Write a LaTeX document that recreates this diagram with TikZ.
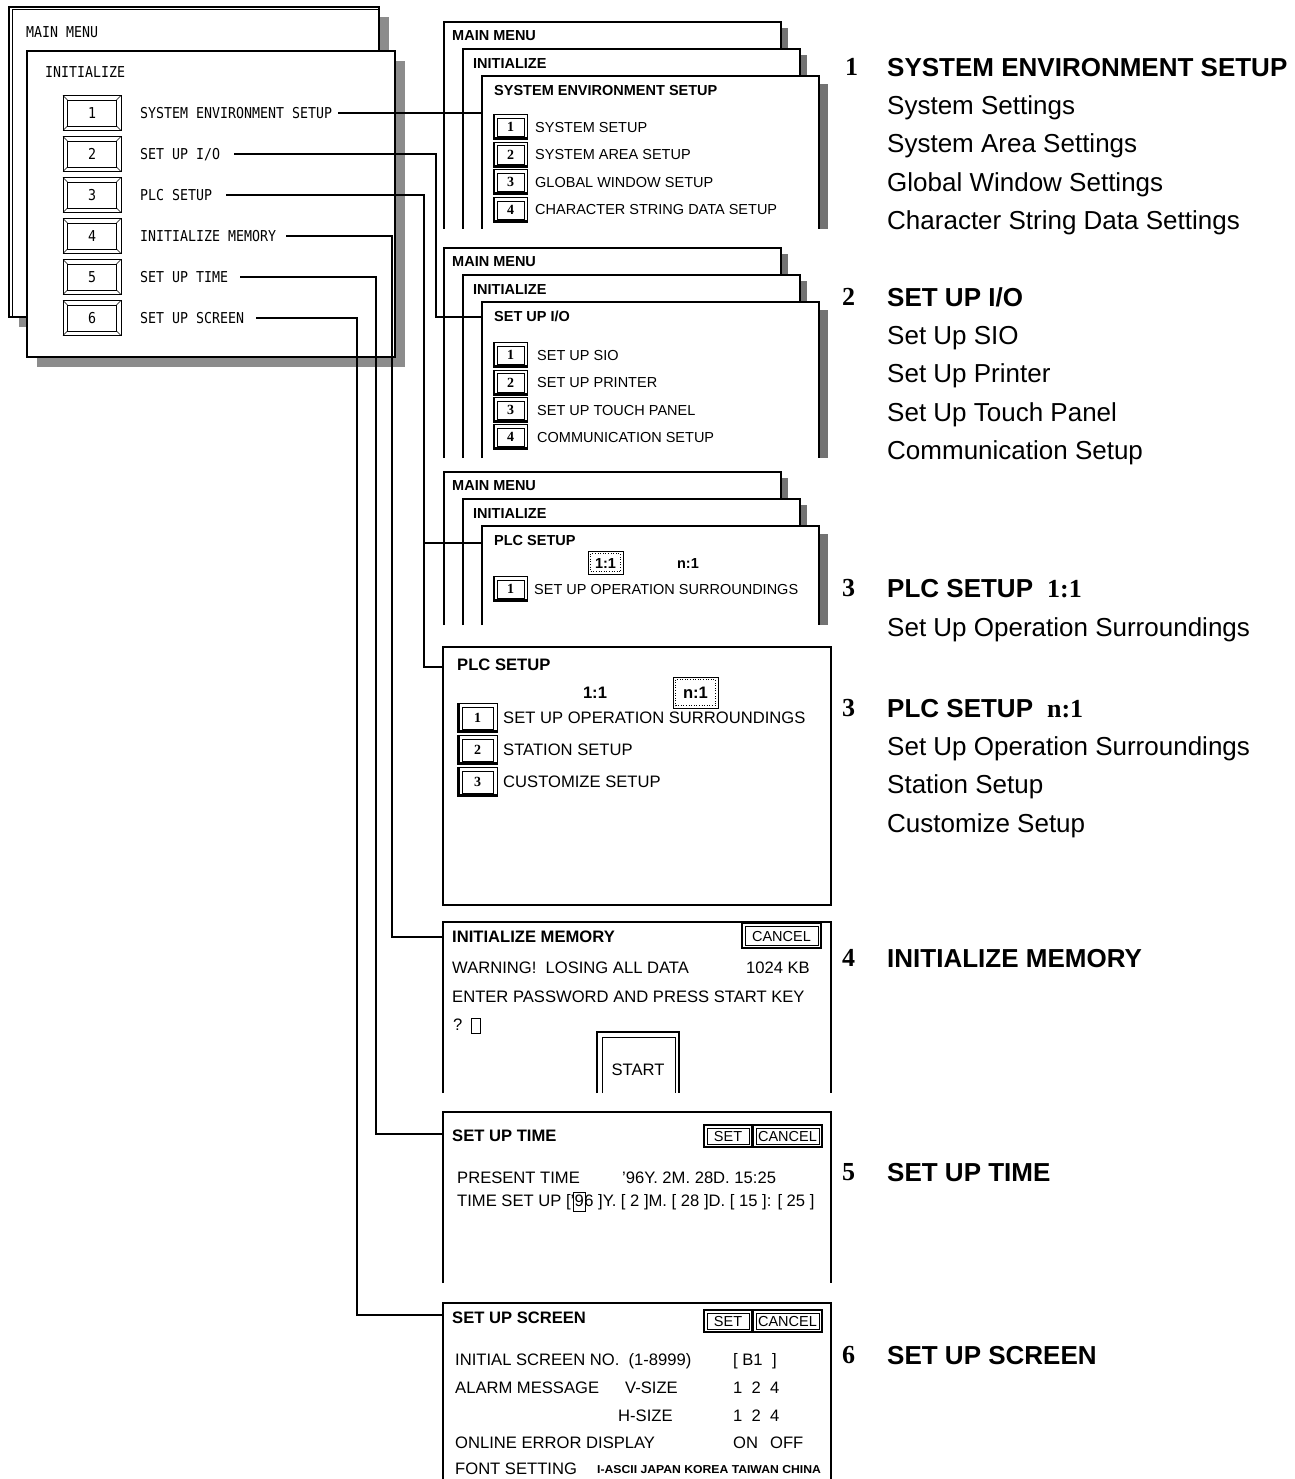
\documentclass[tikz,border=0pt]{standalone}
\usepackage{fontspec}
\setmainfont{Liberation Sans}
\newfontfamily\menufam[FakeStretch=0.885]{DejaVu Sans Mono}
\newfontfamily\numfam{Liberation Serif}
\newfontfamily\tagfam[FakeStretch=1.06]{Liberation Sans}
\usetikzlibrary{positioning}

\newcommand\menuTxt{\menufam\fontsize{15}{15}\selectfont}
\newcommand\panTxt{\fontsize{14.5}{14.5}\selectfont}
\newcommand\panTtl{\bfseries\fontsize{14.5}{14.5}\selectfont}
\newcommand\bigTxt{\fontsize{16.6}{16.6}\selectfont}
\newcommand\bigTtl{\bfseries\fontsize{16.6}{16.6}\selectfont}
\newcommand\lblTxt{\fontsize{26}{26}\selectfont}
\newcommand\lblNum{\numfam\bfseries\fontsize{26}{26}\selectfont}
\newcommand\btnNum{\numfam\bfseries\fontsize{14}{14}\selectfont}
\newcommand\tagTxt{\tagfam\bfseries\fontsize{11.5}{11.5}\selectfont}

\tikzset{
  txt/.style={anchor=west, inner sep=0pt, text depth=0pt},
  menutxt/.style={txt, font=\menuTxt, text height=10.9pt},
  pantxt/.style={txt, font=\panTxt, text height=10.4pt},
  panttl/.style={txt, font=\panTtl, text height=10.4pt},
  bigtxt/.style={txt, font=\bigTxt, text height=11.9pt},
  bigttl/.style={txt, font=\bigTtl, text height=11.9pt},
  lbltxt/.style={txt, font=\lblTxt, text height=18.6pt},
  lblttl/.style={lbltxt, font=\bfseries\lblTxt},
  lblnum/.style={txt, font=\lblNum, text height=17.3pt},
  conn/.style={line width=2pt},
  shade/.style={fill=black!45},
  pshade/.style={fill=black!55},
  winline/.style={line width=1.1pt},
  pics/mbtn/.style={code={
    \draw[line width=1pt] (-29,-17.5) rectangle (29,17.5);
    \draw[line width=0.8pt] (-24.5,-13) rectangle (24.5,13);
    \draw[line width=0.6pt] (-29,-17.5) -- (-24.5,-13) (29,-17.5) -- (24.5,-13)
      (-29,17.5) -- (-24.5,13) (29,17.5) -- (24.5,13);
    \node[font=\menuTxt, inner sep=0pt, text height=10.9pt, text depth=0pt] (-n) at (0,0) {#1};
  }},
  pics/pbtn/.style={code={
    \fill[white] (-17,-12.5) rectangle (17,12.5);
    \draw[line width=0.6pt] (-17,-12.5) rectangle (17,12.5);
    \draw[line width=0.5pt] (-13,-9) rectangle (14,9.5);
    \draw[line width=2.4pt] (-15.8,-12.5) -- (-15.8,11.3) -- (17,11.3);
    \node[font=\btnNum, inner sep=0pt] (-n) at (0.5,0) {#1};
  }},
  pics/dbtn/.style n args={3}{code={
    \draw[line width=1.3pt] ({-#1/2},{-#2/2}) rectangle ({#1/2},{#2/2});
    \draw[line width=0.6pt] ({-#1/2+3},{-#2/2+3}) rectangle ({#1/2-3},{#2/2-3});
    \node[font=\panTxt, inner sep=0pt] (-t) at (0,0.5) {#3};
  }}
}

\begin{document}
\begin{tikzpicture}[x=1pt, y=-1pt]
\useasboundingbox (0,0) rectangle (1294,1479);

% main menu and initialize windows
\fill[shade] (19,17) rectangle (389,327);
\fill[white] (9,7) rectangle (379,317);
\draw[line width=1.4pt] (9,7) rectangle (379,317);
\draw[line width=1pt] (12,317) |- (379,10);
\node[menutxt] (mmain) at (26,32) {MAIN MENU};
\fill[shade] (37,61) rectangle (405,367);
\fill[white] (27,51) rectangle (395,357);
\draw[line width=1.4pt] (27,51) rectangle (395,357);
\node[menutxt] (minit) at (45,72) {INITIALIZE};
\foreach \txt [count=\i] in {SYSTEM ENVIRONMENT SETUP, SET UP I/O, PLC SETUP, INITIALIZE MEMORY, SET UP TIME, SET UP SCREEN}{
  \pic (mb\i) at (92,{113+41*(\i-1)}) {mbtn=\i};
  \node[menutxt] (m\i) at (140,{113+41*(\i-1)}) {\txt};
}

% stacked screens
\foreach \t/\b/\ttl in {22/229/SYSTEM ENVIRONMENT SETUP, 248/458/{SET UP I/O}, 472/625/PLC SETUP}{
  \fill[white] (444,\t) rectangle (781,\b);
  \fill[pshade] (782,{\t+6}) rectangle (788,\b);
  \draw[winline] (444,\b) |- (781,\t) -- (781,\b);
  \node[panttl] (sa\t) at (452,{\t+13}) {MAIN MENU};
  \fill[white] (463,{\t+27}) rectangle (800,\b);
  \fill[pshade] (801,{\t+33}) rectangle (807,\b);
  \draw[winline] (463,\b) |- (800,{\t+27}) -- (800,\b);
  \node[panttl] (sb\t) at (473,{\t+41}) {INITIALIZE};
  \fill[white] (482,{\t+54}) rectangle (819,\b);
  \fill[pshade] (820,{\t+62}) rectangle (828,\b);
  \draw[winline] (482,\b) |- (819,{\t+54}) -- (819,\b);
  \node[panttl] (sc\t) at (494,{\t+68}) {\ttl};
}
\foreach \txt [count=\i] in {SYSTEM SETUP, SYSTEM AREA SETUP, GLOBAL WINDOW SETUP, CHARACTER STRING DATA SETUP}{
  \pic (ea\i) at (510,{127+27.6*(\i-1)}) {pbtn=\i};
  \node[pantxt] (et\i) at (535,{127+27.6*(\i-1)}) {\txt};
}
\foreach \txt [count=\i] in {SET UP SIO, SET UP PRINTER, SET UP TOUCH PANEL, COMMUNICATION SETUP}{
  \pic (ia\i) at (510,{355+27.4*(\i-1)}) {pbtn=\i};
  \node[pantxt] (it\i) at (537,{355+27.4*(\i-1)}) {\txt};
}
\draw[line width=0.6pt] (588,551) rectangle (623,574);
\draw[line width=0.6pt, dotted] (590.5,553.5) rectangle (620.5,571.5);
\node[panttl, anchor=center] (pa11) at (605.5,563) {1:1};
\node[panttl, anchor=center] (pan1) at (688,563) {n:1};
\pic (pab) at (510,589) {pbtn=1};
\node[pantxt] (pat) at (534,589) {SET UP OPERATION SURROUNDINGS};

% plc setup n:1
\draw[winline] (443,647) rectangle (831,905);
\node[bigttl] (pbttl) at (457,665) {PLC SETUP};
\node[bigttl, anchor=center] (pb11) at (595,693) {1:1};
\draw[line width=0.6pt] (673,677) rectangle (718,708);
\draw[line width=0.6pt, dotted] (675.5,679.5) rectangle (715.5,705.5);
\node[bigttl, anchor=center] (pbn1) at (695.5,693) {n:1};
\foreach \txt [count=\i] in {SET UP OPERATION SURROUNDINGS, STATION SETUP, CUSTOMIZE SETUP}{
  \pic[scale=1.17] (pbb\i) at (477,{718+32*(\i-1)}) {pbtn=\i};
  \node[bigtxt] (pbt\i) at (503,{718+32*(\i-1)}) {\txt};
}

% initialize memory
\draw[winline] (443,1093) |- (831,922) -- (831,1093);
\node[bigttl] (imttl) at (452,937) {INITIALIZE MEMORY};
\pic (imc) at (781.5,935.5) {dbtn={79}{25}{CANCEL}};
\node[bigtxt] (imw) at (452,968) {WARNING!\ \ LOSING ALL DATA};
\node[bigtxt, anchor=east] (imkb) at (810,968) {1024 KB};
\node[bigtxt] (ime) at (452,997) {ENTER PASSWORD AND PRESS START KEY};
\node[bigtxt] (imq) at (453,1025) {?};
\draw[line width=0.6pt] (471,1018) rectangle (480,1033);
\draw[winline] (597,1093) |- (679,1032) -- (679,1093);
\draw[line width=0.6pt] (602,1093) |- (675,1037) -- (675,1093);
\node[bigtxt, anchor=center] (imst) at (638,1070) {START};

% set up time
\draw[winline] (443,1283) |- (831,1112) -- (831,1283);
\node[bigttl] (tmttl) at (452,1136) {SET UP TIME};
\pic (tms) at (728,1136) {dbtn={48}{22}{SET}};
\pic (tmc) at (787.5,1136) {dbtn={69}{22}{CANCEL}};
\node[bigtxt] (tmp) at (457,1178) {PRESENT TIME};
\node[bigtxt] (tmpv) at (622,1178) {'96Y. 2M. 28D. 15:25};
\node[bigtxt] (ts1) at (457,1201) {TIME SET UP ['};
\node[bigtxt, right=0pt of ts1] (ts9) {9};
\node[bigtxt, right=0pt of ts9] (ts2) {6 ]Y. [ 2 ]M. [ 28 ]D. [ 15 ]: [ 25 ]};
\draw[line width=0.6pt] ([shift={(-1,-3)}]ts9.north west) rectangle ([shift={(1,4)}]ts9.south east);

% set up screen
\draw[winline] (443,1479) |- (831,1303) -- (831,1479);
\node[bigttl] (scttl) at (452,1318) {SET UP SCREEN};
\pic (scs) at (728,1321) {dbtn={48}{22}{SET}};
\pic (scc) at (787.5,1321) {dbtn={69}{22}{CANCEL}};
\node[bigtxt] (sc1) at (455,1360) {INITIAL SCREEN NO.\ \ (1-8999)};
\node[bigtxt] (sc1a) at (733,1360) {[ B1};
\node[bigtxt] (sc1b) at (772,1360) {]};
\node[bigtxt] (sc2) at (455,1388) {ALARM MESSAGE};
\node[bigtxt] (sc2a) at (625,1388) {V-SIZE};
\node[bigtxt] (sc2b) at (733,1388) {1\ \ 2\ \ 4};
\node[bigtxt] (sc3a) at (618,1416) {H-SIZE};
\node[bigtxt] (sc3b) at (733,1416) {1\ \ 2\ \ 4};
\node[bigtxt] (sc4) at (455,1443) {ONLINE ERROR DISPLAY};
\node[bigtxt] (sc4a) at (733,1443) {ON\hspace{12pt}OFF};
\node[bigtxt] (sc5) at (455,1469) {FONT SETTING};
\node[txt, font=\tagTxt, text height=8.2pt] (sc5a) at (597,1469) {I-ASCII JAPAN KOREA TAIWAN CHINA};

% connectors
\coordinate (w1) at (482,113);
\coordinate (w2) at (482,317);
\coordinate (w3) at (482,543);
\coordinate (w3n) at (443,667);
\coordinate (w4) at (443,937);
\coordinate (w5) at (443,1134);
\coordinate (w6) at (443,1315);
\draw[conn] ([xshift=6pt]m1.east) -- (w1);
\draw[conn] ([xshift=14pt]m2.east) -| ([xshift=-46pt]w2) -- (w2);
\draw[conn] ([xshift=14pt]m3.east) -| ([xshift=-19pt]w3n) -- (w3n);
\draw[conn] ([xshift=-58pt]w3) -- (w3);
\draw[conn] ([xshift=10pt]m4.east) -| ([xshift=-51pt]w4) -- (w4);
\draw[conn] ([xshift=12pt]m5.east) -| ([xshift=-67pt]w5) -- (w5);
\draw[conn] ([xshift=12pt]m6.east) -| ([xshift=-86pt]w6) -- (w6);

% labels
\node[lblnum] (n1) at (845,67) {1};
\node[lblttl] (h1) at (887,67) {SYSTEM ENVIRONMENT SETUP};
\foreach \txt [count=\i] in {System Settings, System Area Settings, Global Window Settings, Character String Data Settings}
  \node[lbltxt] (h1s\i) at (887,{67+38.3*\i}) {\txt};
\node[lblnum] (n2) at (842,297) {2};
\node[lblttl] (h2) at (887,297) {SET UP I/O};
\foreach \txt [count=\i] in {Set Up SIO, Set Up Printer, Set Up Touch Panel, Communication Setup}
  \node[lbltxt] (h2s\i) at (887,{297+38.3*\i}) {\txt};
\node[lblnum] (n3a) at (842,588) {3};
\node[lblttl] (h3a) at (887,588) {PLC SETUP\hspace{14pt}{\lblNum 1:1}};
\node[lbltxt] (h3as) at (887,627) {Set Up Operation Surroundings};
\node[lblnum] (n3b) at (842,708) {3};
\node[lblttl] (h3b) at (887,708) {PLC SETUP\hspace{14pt}{\lblNum n:1}};
\foreach \txt [count=\i] in {Set Up Operation Surroundings, Station Setup, Customize Setup}
  \node[lbltxt] (h3bs\i) at (887,{708+38.3*\i}) {\txt};
\node[lblnum] (n4) at (842,958) {4};
\node[lblttl] (h4) at (887,958) {INITIALIZE MEMORY};
\node[lblnum] (n5) at (842,1172) {5};
\node[lblttl] (h5) at (887,1172) {SET UP TIME};
\node[lblnum] (n6) at (842,1355) {6};
\node[lblttl] (h6) at (887,1355) {SET UP SCREEN};
\end{tikzpicture}
\end{document}
